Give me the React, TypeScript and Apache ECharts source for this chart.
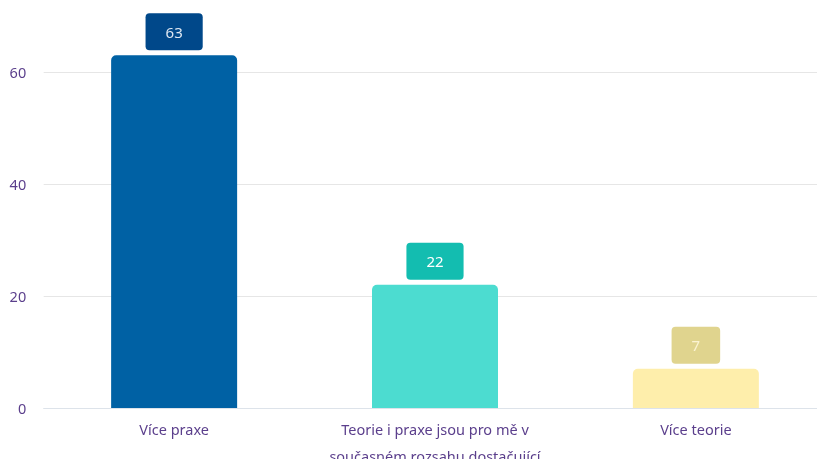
import React, { useEffect, useRef } from "react";
import * as echarts from "echarts";

const categories = [
  "Více praxe",
  "Teorie i praxe jsou pro mě v\nsoučasném rozsahu dostačující",
  "Více teorie",
];
const values = [63, 22, 7];
const barColors = ["#0061a4", "#4cdcd0", "#feeeab"];
const labelBg = ["#00488a", "#13bdb0", "#e0d48e"];
const labelText = ["#dde7f2", "#ffffff", "#fbf3d2"];
const yTicks = [0, 20, 40, 60];

export default function App() {
  const ref = useRef<HTMLDivElement>(null);
  useEffect(() => {
    if (!ref.current) return;
    const chart = echarts.init(ref.current, undefined, { renderer: "svg" });
    const font = "Noto Sans";
    chart.setOption({
      animation: false,
      grid: {
        left: 43.7,
        right: -9.3,
        top: 55.2,
        bottom: 51,
        containLabel: false,
        outerBoundsMode: "none",
      },
      xAxis: {
        type: "category",
        data: categories,
        axisTick: { show: false },
        axisLine: { lineStyle: { color: "#dde3ea", width: 1 } },
        axisLabel: {
          color: "#5b3f8c",
          fontFamily: font,
          fontSize: 14.5,
          lineHeight: 27,
          margin: 7,
          interval: 0,
        },
      },
      yAxis: {
        type: "value",
        min: 0,
        max: 63,
        interval: 20,
        axisLine: { show: false },
        axisTick: { show: false },
        axisLabel: {
          color: "#5b3f8c",
          fontFamily: font,
          fontSize: 14.5,
          margin: 17.5,
          showMaxLabel: false,
          formatter: (v: number) => (yTicks.includes(v) ? String(v) : ""),
        },
        splitLine: {
          lineStyle: {
            color: ["#e6e6e6", "#e6e6e6", "#e6e6e6", "#e6e6e6", "rgba(0,0,0,0)"],
          },
        },
      },
      series: [
        {
          type: "bar",
          barWidth: 126,
          data: values.map((v, i) => ({
            value: v,
            itemStyle: { color: barColors[i], borderRadius: [5, 5, 0, 0] },
            label: {
              backgroundColor: labelBg[i],
              color: labelText[i],
            },
          })),
          label: {
            show: true,
            position: "top",
            distance: 5,
            fontFamily: font,
            fontSize: 15,
            padding: [11, 20, 11, 20],
            borderRadius: 4,
          },
        },
      ],
    });
    return () => chart.dispose();
  }, []);
  return (
    <div
      ref={ref}
      style={{ position: "fixed", left: 0, top: 0, width: 817, height: 459 }}
    />
  );
}
